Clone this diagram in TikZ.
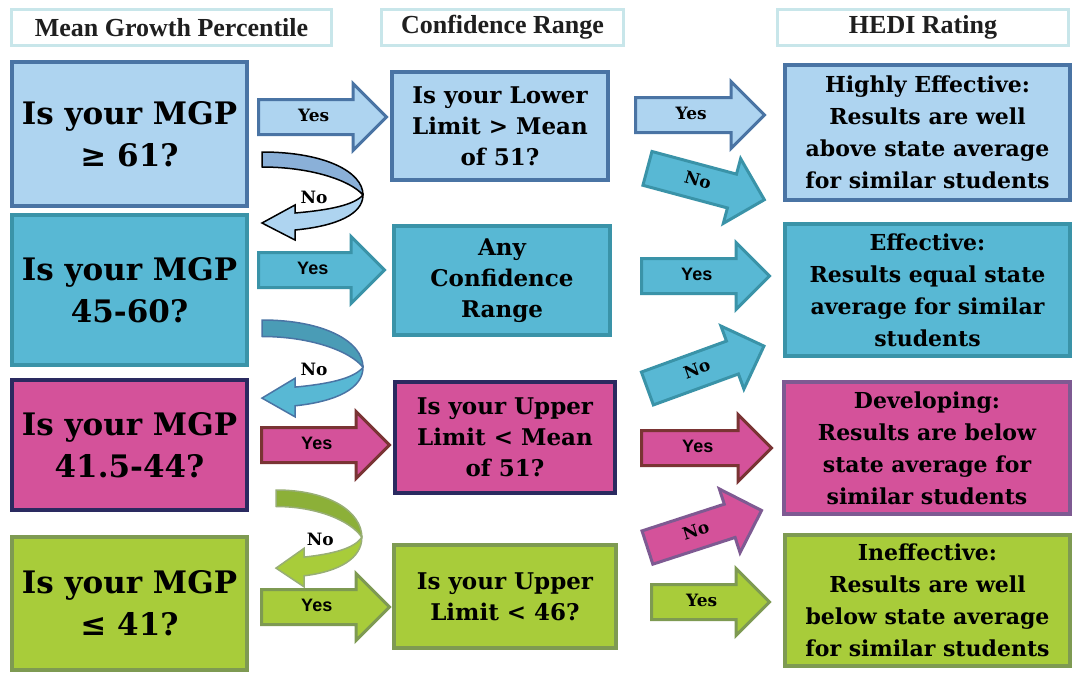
\documentclass[tikz,border=0pt]{standalone}
\usepackage{fontspec}
\usepackage{tikz}
\usetikzlibrary{shapes.arrows, positioning}
\newfontfamily\schfont{DejaVu Serif}
\newfontfamily\headfont{Liberation Serif}
\newfontfamily\labfont{Liberation Sans}

\definecolor{skyfill}{HTML}{AED4F0}
\definecolor{skyline}{HTML}{4A74A4}
\definecolor{skydark}{HTML}{8AB0D8}
\definecolor{tealfill}{HTML}{58B8D4}
\definecolor{tealline}{HTML}{3A93A8}
\definecolor{tealdark}{HTML}{4A9CB6}
\definecolor{pinkfill}{HTML}{D4529A}
\definecolor{navyline}{HTML}{2A2A60}
\definecolor{maroonline}{HTML}{7A3434}
\definecolor{plumline}{HTML}{7E5A92}
\definecolor{limefill}{HTML}{A8CC3A}
\definecolor{limeline}{HTML}{7E9A52}
\definecolor{limedark}{HTML}{8CB038}
\definecolor{headline}{HTML}{C8E6EA}

\tikzset{
x=1pt, y=-1pt, % pixel grid, y grows downward
header/.style={draw=headline, line width=3pt, fill=white, minimum width=#1, minimum height=36pt, font=\headfont\bfseries\fontsize{26}{28}\selectfont, text=black!88}, % column titles
question/.style={line width=4pt, align=center, font=\schfont\bfseries\fontsize{31}{42}\selectfont}, % MGP boxes
check/.style={line width=4pt, align=center, font=\schfont\bfseries\fontsize{23}{31}\selectfont}, % confidence boxes
rating/.style={line width=4pt, align=center, font=\schfont\bfseries\fontsize{22}{32}\selectfont}, % HEDI boxes
go/.style={single arrow, single arrow head extend=16pt, anchor=tail, line width=3pt, minimum height=#1, text height=12pt, text depth=3pt, inner ysep=8.5pt, inner xsep=4pt, font=\schfont\bfseries\fontsize{17}{18}\selectfont}, % block arrows
gosans/.style={go=#1, font=\labfont\bfseries\fontsize{18}{18}\selectfont},
pics/noturn/.style n args={3}{code={ % #1 back band, #2 front band, #3 outline
  \draw[#3, line width=1.5pt, fill=#1, line join=round] (0,0) .. controls (63,0) and (101,20) .. (101,43) .. controls (88,28) and (48,15) .. (0,15) -- cycle;
  \draw[#3, line width=1.5pt, fill=#2] (101,43) .. controls (101,62) and (75,74) .. (33,78) -- (33,88) -- (0,71) -- (33,53) -- (33,61) .. controls (68,58) and (92,53) .. (101,43) -- cycle;
  \node[font=\schfont\bfseries\fontsize{17}{18}\selectfont, inner sep=0pt] (-no) at (52,45) {No};
}},
}

\begin{document}
\begin{tikzpicture}
    \useasboundingbox (0,0) rectangle (1074,675);
    % column titles
    \node[header=320pt] (h1) at (171.5,27.5) {Mean Growth Percentile};
    \node[header=242pt] (h2) at (502.5,27.5) {Confidence Range};
    \node[header=291pt] (h3) at (923,27.5) {HEDI Rating};

    % mean growth percentile
    \node[question, draw=skyline, fill=skyfill, minimum width=235pt, minimum height=144pt] (mgp1) at (129.5,134) {Is your MGP\\≥ 61?};
    \node[question, draw=tealline, fill=tealfill, minimum width=235pt, minimum height=150pt] (mgp2) at (129.5,290) {Is your MGP\\45-60?};
    \node[question, draw=navyline, fill=pinkfill, minimum width=235pt, minimum height=130pt] (mgp3) at (129.5,445) {Is your MGP\\41.5-44?};
    \node[question, draw=limeline, fill=limefill, minimum width=235pt, minimum height=133pt] (mgp4) at (129.5,603.5) {Is your MGP\\≤ 41?};

    % confidence range
    \node[check, draw=skyline, fill=skyfill, minimum width=216pt, minimum height=108pt] (cr1) at (500,126) {Is your Lower\\Limit > Mean\\of 51?};
    \node[check, draw=tealline, fill=tealfill, minimum width=216pt, minimum height=109pt] (cr2) at (502,280.5) {Any\\Confidence\\Range};
    \node[check, draw=navyline, fill=pinkfill, minimum width=220pt, minimum height=111pt] (cr3) at (505,437.5) {Is your Upper\\Limit < Mean\\of 51?};
    \node[check, draw=limeline, fill=limefill, minimum width=222pt, minimum height=103pt] (cr4) at (505,596.5) {Is your Upper\\Limit < 46?};

    % HEDI rating
    \node[rating, draw=skyline, fill=skyfill, minimum width=285pt, minimum height=135pt] (hedi1) at (927.5,132.5) {Highly Effective:\\Results are well\\above state average\\for similar students};
    \node[rating, draw=tealline, fill=tealfill, minimum width=285pt, minimum height=132pt] (hedi2) at (927.5,290) {Effective:\\Results equal state\\average for similar\\students};
    \node[rating, draw=plumline, fill=pinkfill, minimum width=286pt, minimum height=132pt] (hedi3) at (927,448) {Developing:\\Results are below\\state average for\\similar students};
    \node[rating, draw=limeline, fill=limefill, minimum width=285pt, minimum height=131pt] (hedi4) at (927.5,600.5) {Ineffective:\\Results are well\\below state average\\for similar students};

    % yes arrows into the confidence column
    \node[go=128pt, draw=skyline, fill=skyfill] (yes1) at (257,117) {Yes};
    \node[gosans=126pt, draw=tealline, fill=tealfill] (yes2) at (257,270) {Yes};
    \node[gosans=128pt, draw=maroonline, fill=pinkfill] (yes3) at (260,445) {Yes};
    \node[gosans=128pt, draw=limeline, fill=limefill] (yes4) at (260,607) {Yes};

    % yes arrows into the rating column
    \node[go=129pt, draw=skyline, fill=skyfill] (yes5) at (634,115) {Yes};
    \node[gosans=128pt, draw=tealline, fill=tealfill] (yes6) at (640,276) {Yes};
    \node[gosans=130pt, draw=maroonline, fill=pinkfill] (yes7) at (640,448) {Yes};
    \node[go=118pt, draw=limeline, fill=limefill] (yes8) at (650,602) {Yes};

    % no arrows into the rating column
    \node[go=121pt, draw=tealline, fill=tealfill, rotate=-15] (no1) at (646,168) {No};
    \node[go=124pt, draw=tealline, fill=tealfill, rotate=20] (no2) at (646,389) {No};
    \node[go=120pt, draw=plumline, fill=pinkfill, rotate=18] (no3) at (646,548) {No};

    % no turns back to the next percentile
    \pic (turn1) at (262,152) {noturn={skydark}{skyfill}{black}};
    \pic[yscale=1.1] (turn2) at (262,320) {noturn={tealdark}{tealfill}{skyline}};
    \pic[xscale=0.85, yscale=1.1] (turn3) at (276,490) {noturn={limedark}{limefill}{limeline!80}};
\end{tikzpicture}
\end{document}
